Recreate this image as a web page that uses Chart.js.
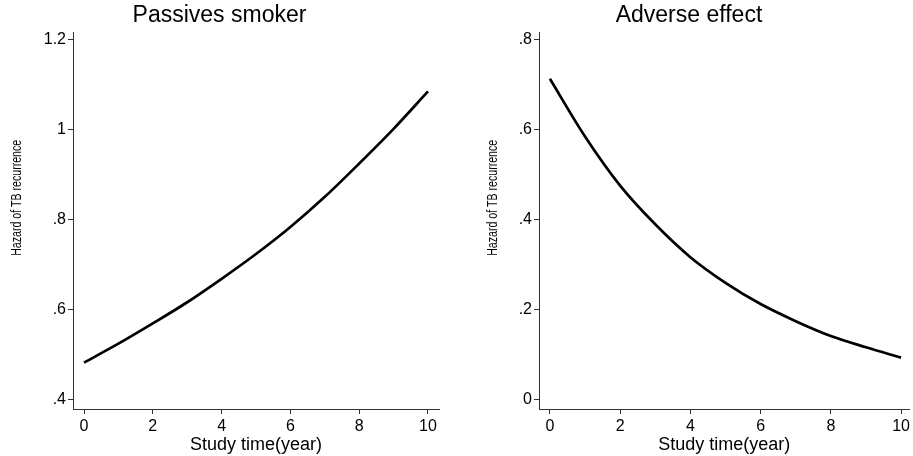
<!DOCTYPE html>
<html>
<head>
<meta charset="utf-8">
<script src="https://cdn.jsdelivr.net/npm/chart.js@4.4.1/dist/chart.umd.min.js"></script>
<style>
  html, body { margin: 0; padding: 0; background: #fff; overflow: hidden; }
  #wrap { position: relative; width: 913px; height: 456px; }
  .panel { position: absolute; top: 0; height: 456px; }
  #left { left: 0; width: 466px; }
  #right { left: 466px; width: 447px; }
</style>
</head>
<body>
<div id="wrap">
  <div class="panel" id="left"><canvas id="c1"></canvas></div>
  <div class="panel" id="right"><canvas id="c2"></canvas></div>
</div>
<script>
// study time in years
const years = [0, 1, 2, 3, 4, 5, 6, 7, 8, 9, 10];
// hazard of TB recurrence
const passiveHazard = [0.483, 0.525, 0.570, 0.617, 0.669, 0.724, 0.784, 0.851, 0.925, 1.002, 1.085];
const adverseHazard = [0.713, 0.585, 0.476, 0.390, 0.317, 0.260, 0.213, 0.175, 0.142, 0.117, 0.094];

const xTicks = [0, 2, 4, 6, 8, 10];
const passiveTicks = [0.4, 0.6, 0.8, 1, 1.2];
const passiveTickLabels = ['.4', '.6', '.8', '1', '1.2'];
const adverseTicks = [0, 0.2, 0.4, 0.6, 0.8];
const adverseTickLabels = ['0', '.2', '.4', '.6', '.8'];

const FONT = "'Liberation Sans', Arial, sans-serif";
const AXIS = '#333';
const Y_TITLE = 'Hazard of TB recurrence';

// y title drawn by hand: sits above the plot centre and is squeezed along its length, like the original
const yTitlePlugin = {
  id: 'yTitle',
  afterDraw(chart, args, opts) {
    const { ctx, chartArea } = chart;
    ctx.save();
    ctx.font = '14px ' + FONT;
    const w = ctx.measureText(Y_TITLE).width;
    ctx.translate(opts.x, (chartArea.top + chartArea.bottom) / 2 - 23);
    ctx.rotate(-Math.PI / 2);
    ctx.scale(opts.len / w, 1);
    ctx.fillStyle = '#000';
    ctx.textAlign = 'center';
    ctx.textBaseline = 'middle';
    ctx.fillText(Y_TITLE, 0, 0);
    ctx.restore();
  }
};

const makeChart = (id, title, values, yTicks, yLabels, yMin, yMax, xMin, xMax, rightPad, titleX) => {
  const ctx = document.getElementById(id);
  return new Chart(ctx, {
    type: 'line',
    data: {
      datasets: [{
        data: years.map((t, i) => ({ x: t, y: values[i] })),
        borderColor: '#000',
        borderWidth: 2.7,
        pointRadius: 0,
        fill: false,
        cubicInterpolationMode: 'monotone'
      }]
    },
    plugins: [yTitlePlugin],
    options: {
      responsive: true,
      maintainAspectRatio: false,
      animation: false,
      layout: { padding: { left: 0, right: rightPad, top: 0, bottom: 0 } },
      plugins: {
        legend: { display: false },
        tooltip: { enabled: false },
        yTitle: { x: titleX, len: 116 },
        title: {
          display: true,
          text: title,
          color: '#000',
          font: { family: FONT, size: 23, weight: 'normal' },
          padding: { top: 2, bottom: 3 }
        }
      },
      scales: {
        x: {
          type: 'linear',
          min: xMin,
          max: xMax,
          afterBuildTicks: (scale) => { scale.ticks = xTicks.map(v => ({ value: v })); },
          afterFit: (scale) => { scale.height = 47; },
          grid: { drawOnChartArea: false, drawTicks: true, tickLength: 5, color: AXIS },
          border: { display: true, color: AXIS, width: 1 },
          ticks: {
            color: '#000',
            padding: 3,
            maxRotation: 0,
            font: { family: FONT, size: 16 },
            callback: (v) => String(v)
          },
          title: {
            display: true,
            text: 'Study time(year)',
            color: '#000',
            font: { family: FONT, size: 18 },
            padding: { top: 2, bottom: 0 }
          }
        },
        y: {
          type: 'linear',
          min: yMin,
          max: yMax,
          afterBuildTicks: (scale) => { scale.ticks = yTicks.map(v => ({ value: v })); },
          afterFit: (scale) => { scale.width = 73; },
          grid: { drawOnChartArea: false, drawTicks: true, tickLength: 5, color: AXIS },
          border: { display: true, color: AXIS, width: 1 },
          ticks: {
            color: '#000',
            padding: 2,
            font: { family: FONT, size: 16 },
            callback: (v) => {
              const i = yTicks.findIndex(t => Math.abs(t - v) < 1e-9);
              return i >= 0 ? yLabels[i] : '';
            }
          },
          title: { display: false }
        }
      }
    }
  });
};

makeChart('c1', 'Passives smoker', passiveHazard, passiveTicks, passiveTickLabels, 0.38, 1.2156, -0.32, 10.32, 27, 17);
makeChart('c2', 'Adverse effect', adverseHazard, adverseTicks, adverseTickLabels, -0.02, 0.8156, -0.31, 10.24, 1, 27);
</script>
</body>
</html>
